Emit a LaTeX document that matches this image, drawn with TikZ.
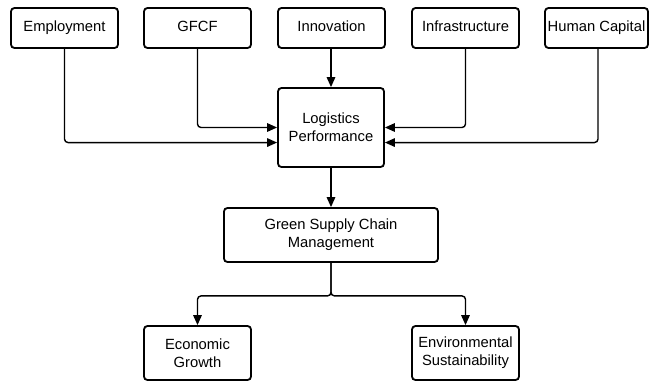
\documentclass[tikz,border=0pt]{standalone}
\usepackage{fontspec}
\setmainfont{Liberation Sans}
\usetikzlibrary{arrows.meta,positioning}

\begin{document}
\begin{tikzpicture}[x=0.025cm, y=-0.025cm]
			\tikzstyle{Box}		= [draw, line width=1.3pt, rounded corners=2.5pt, align=center, inner sep=0pt, font=\fontsize{10.5pt}{12.8pt}\selectfont]
			\tikzstyle{Small}	= [Box, minimum width=2.675cm, minimum height=1cm, text height=7.6pt, text depth=2.2pt]
			\tikzstyle{Tall}	= [Box, minimum width=2.675cm, minimum height=1.35cm]
			\tikzstyle{Arrow}	= [line width=1pt, rounded corners=2.5pt, -{Triangle[length=7pt, width=6pt]}]

			\useasboundingbox (0,0) rectangle (649,382);

			\node (emp) at (64.5, 28) [Small] {Employment};
			\node (gfcf) at (197.5, 28) [Small] {GFCF};
			\node (innov) at (331.5, 28) [Small] {Innovation};
			\node (infra) at (465.5, 28) [Small] {Infrastructure};
			\node (human) at (596.5, 28) [Small, minimum width=2.575cm] {Human Capital};
			\node (lp) at (331, 127.5) [Box, minimum width=2.65cm, minimum height=1.975cm] {Logistics\\Performance};
			\node (gscm) at (331, 235) [Box, minimum width=5.35cm, minimum height=1.35cm] {Green Supply Chain\\Management};
			\node (eg) at (197.5, 353) [Tall] {Economic\\Growth};
			\node (es) at (465.5, 353) [Tall] {Environmental\\Sustainability};

			\draw [Arrow] (emp) |- ([yshift=-10.7pt]lp.west);
			\draw [Arrow] (gfcf) |- (lp.west);
			\draw [Arrow] (innov.south -| lp) -- (lp);
			\draw [Arrow] (infra) |- (lp.east);
			\draw [Arrow] (human.south -| 598,0) |- ([yshift=-10.7pt]lp.east);
			\draw [Arrow] (lp) -- (gscm);
			\draw [Arrow] (gscm.south) -- ++(0,33) -| (eg);
			\draw [Arrow] (gscm.south) -- ++(0,33) -| (es);
		\end{tikzpicture}
\end{document}
